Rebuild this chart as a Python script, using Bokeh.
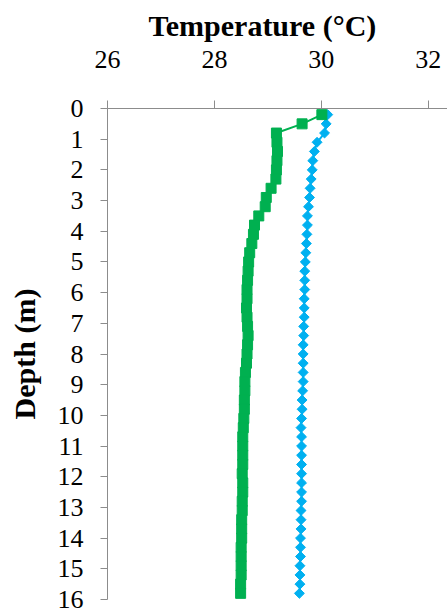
from bokeh.plotting import figure
from bokeh.models import Range1d, FixedTicker, Title, LinearAxis
from bokeh.embed import file_html
from bokeh.resources import INLINE

# Depth (m)
depth = [0.2, 0.5, 0.8, 1.1, 1.4, 1.7, 2.0, 2.3, 2.6, 2.9, 3.2, 3.5, 3.8, 4.1, 4.4,
         4.7, 5.0, 5.3, 5.6, 5.9, 6.2, 6.5, 6.8, 7.1, 7.4, 7.7, 8.0, 8.3, 8.6, 8.9,
         9.2, 9.5, 9.8, 10.1, 10.4, 10.7, 11.0, 11.3, 11.6, 11.9, 12.2, 12.5, 12.8,
         13.1, 13.4, 13.7, 14.0, 14.3, 14.6, 14.9, 15.2, 15.5, 15.8]

# Temperature series (°C)
temp_green = [30.01, 29.64, 29.16, 29.17, 29.18, 29.17, 29.16, 29.15, 29.06, 28.97,
              28.95, 28.83, 28.75, 28.73, 28.70, 28.66, 28.64, 28.63, 28.62, 28.61,
              28.61, 28.60, 28.61, 28.62, 28.63, 28.62, 28.61, 28.60, 28.58, 28.57,
              28.57, 28.56, 28.56, 28.55, 28.54, 28.53, 28.53, 28.53, 28.53, 28.52,
              28.53, 28.53, 28.52, 28.52, 28.51, 28.51, 28.51, 28.50, 28.50, 28.50,
              28.50, 28.49, 28.49]

temp_blue = [30.12, 30.09, 30.06, 29.92, 29.87, 29.84, 29.83, 29.81, 29.79, 29.78,
             29.76, 29.74, 29.74, 29.73, 29.72, 29.71, 29.70, 29.69, 29.69, 29.69,
             29.68, 29.68, 29.68, 29.67, 29.67, 29.66, 29.66, 29.66, 29.66, 29.66,
             29.65, 29.64, 29.64, 29.63, 29.62, 29.63, 29.63, 29.63, 29.63, 29.63,
             29.63, 29.63, 29.63, 29.62, 29.62, 29.62, 29.61, 29.61, 29.61, 29.60,
             29.60, 29.60, 29.59]

x_ticks = [26, 28, 30, 32]
y_ticks = list(range(0, 17))
x_title = "Temperature (°C)"

FONT = "Liberation Serif"
AXIS_COLOR = "#8c8c8c"
GREEN = "#00B050"
BLUE = "#00B0F0"

p = figure(width=447, height=613, output_backend="svg", toolbar_location=None,
           x_range=Range1d(26, 32.36), y_range=Range1d(16, 0),
           x_axis_location=None, y_axis_location=None,
           min_border_left=107, min_border_top=107, min_border_right=0,
           min_border_bottom=14)
p.outline_line_color = None
p.grid.visible = False

# top axis
xa = LinearAxis(ticker=FixedTicker(ticks=x_ticks))
xa.major_label_text_font = FONT
xa.major_label_text_font_size = "26px"
xa.major_label_text_color = "black"
xa.axis_line_color = AXIS_COLOR
xa.major_tick_line_color = AXIS_COLOR
xa.major_tick_out = 8
xa.major_tick_in = 0
xa.minor_tick_line_color = None
xa.major_label_standoff = 33
p.add_layout(xa, "above")

# left axis
ya = LinearAxis(ticker=FixedTicker(ticks=y_ticks), axis_label="Depth (m)")
ya.major_label_text_font = FONT
ya.major_label_text_font_size = "26px"
ya.major_label_text_color = "black"
ya.axis_line_color = AXIS_COLOR
ya.major_tick_line_color = AXIS_COLOR
ya.major_tick_out = 7
ya.major_tick_in = 0
ya.minor_tick_line_color = None
ya.major_label_standoff = 17
ya.axis_label_text_font = FONT
ya.axis_label_text_font_size = "30px"
ya.axis_label_text_font_style = "bold"
ya.axis_label_text_color = "black"
ya.axis_label_standoff = 14
p.add_layout(ya, "left")

t = Title(text=x_title, align="left", offset=41, standoff=12,
          vertical_align="bottom",
          text_font=FONT, text_font_size="30px", text_font_style="bold",
          text_color="black")
p.add_layout(t, "above")

p.line(temp_blue, depth, line_color=BLUE, line_width=2)
p.scatter(temp_blue, depth, marker="square", angle=0.785398, size=7,
          fill_color=BLUE, line_color=BLUE)

p.line(temp_green, depth, line_color=GREEN, line_width=2)
p.scatter(temp_green, depth, marker="square", size=10,
          fill_color=GREEN, line_color=GREEN)

open("out.html", "w").write(file_html(p, INLINE))
